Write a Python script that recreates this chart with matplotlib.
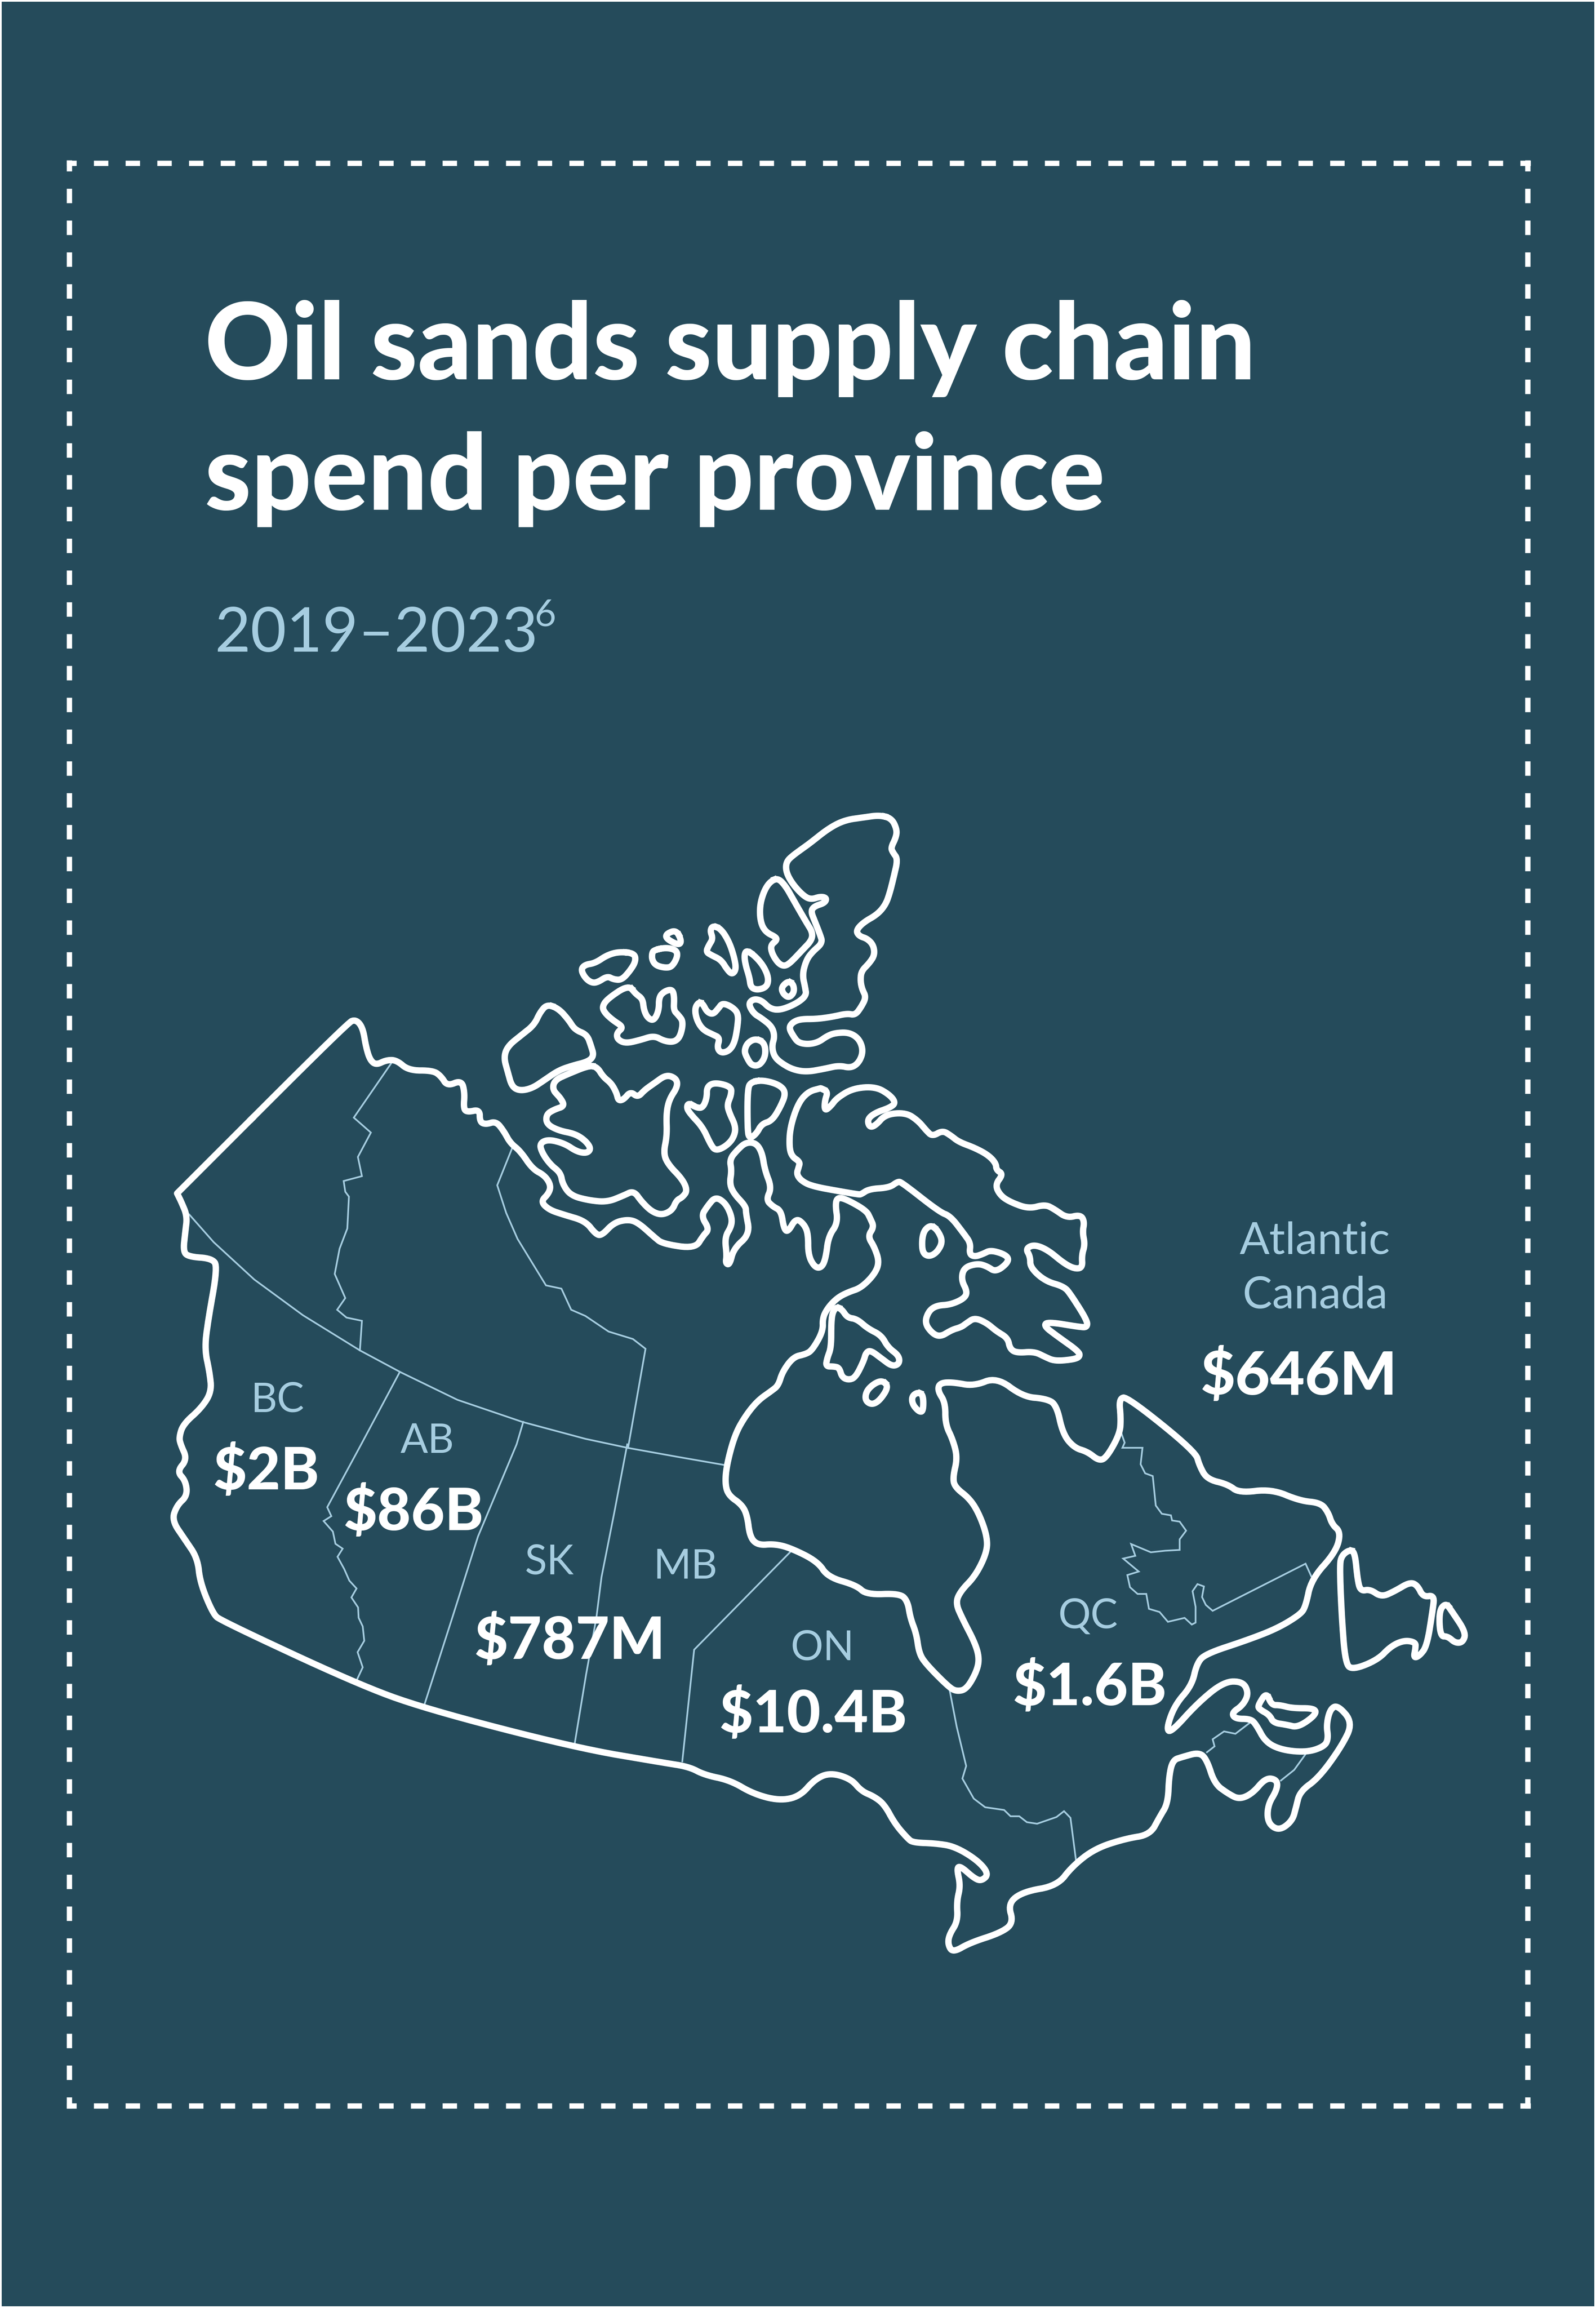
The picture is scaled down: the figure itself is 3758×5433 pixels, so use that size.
import matplotlib
matplotlib.use("Agg")
import matplotlib.pyplot as plt
import numpy as np

# colours
BG = "#254b5b"
LIGHT = "#a6cde0"
WHITE = "#ffffff"

# text and values
title_lines = ["Oil sands supply chain", "spend per province"]
subtitle = "2019–2023"
footnote = "6"
regions = ["BC", "AB", "SK", "MB", "ON", "QC"]
region_spend = ["$2B", "$86B", "$787M", "$10.4B", "$1.6B"]

# the outlines were traced on zoomed crops: (left, top, width, height) of the crop,
# each crop being shown 1568 px square
CROPS = {
    "z1": (1100, 1850, 1500, 1200),
    "z2": (350, 2350, 1500, 1200),
    "z3": (1600, 2700, 1000, 1000),
    "z4": (2150, 3200, 1400, 1450),
    "z5": (350, 3400, 1900, 1000),
}


def to_px(crop, pts):
    left, top, w, h = CROPS[crop]
    pts = np.array(pts, dtype=float)
    return np.column_stack([left + pts[:, 0] * w / 1568, top + pts[:, 1] * h / 1568])


# mainland, clockwise from the Yukon / Alaska corner
main_a = [(70, 600), (490, 75), (510, 65), (527, 90), (535, 150), (545, 190), (560, 205), (585, 190), (610, 190),
          (640, 222), (700, 222), (720, 240), (735, 270), (770, 252), (778, 290), (775, 340), (785, 350), (815, 342),
          (815, 380), (830, 388), (855, 378), (875, 410), (890, 445), (915, 470), (945, 525), (975, 545), (990, 575),
          (985, 600), (965, 625), (985, 650), (1020, 665), (1075, 685), (1100, 725), (1115, 730), (1145, 690),
          (1180, 680), (1205, 690), (1245, 735), (1265, 755), (1345, 770), (1365, 730), (1380, 710), (1360, 670),
          (1375, 640), (1395, 610), (1420, 630), (1435, 670), (1435, 700), (1418, 735), (1423, 790), (1420, 815),
          (1430, 820), (1440, 770), (1480, 725), (1470, 660), (1470, 640), (1440, 600), (1430, 570), (1435, 530),
          (1430, 495), (1450, 465), (1470, 443), (1495, 445), (1510, 475)]
main_b = [(315, 85), (340, 150), (320, 195), (345, 220), (375, 235), (385, 300), (400, 315), (430, 262), (460, 285),
          (475, 320), (475, 400), (500, 445), (525, 445), (540, 410), (550, 330), (585, 280), (575, 210), (585, 185),
          (620, 195), (690, 235), (705, 265), (718, 295), (695, 330), (720, 370), (738, 425), (720, 470), (670, 520),
          (625, 535), (585, 555), (550, 590), (528, 630), (530, 680), (490, 750), (465, 765), (420, 775), (380, 830),
          (365, 880), (340, 900), (290, 935), (245, 990), (205, 1060), (175, 1170), (168, 1240), (180, 1285),
          (230, 1320), (250, 1360), (260, 1440), (290, 1470), (350, 1465), (410, 1480), (510, 1530)]
main_c = [(1320, 490), (1375, 520), (1395, 555), (1460, 550), (1475, 580), (1480, 640), (1492, 700), (1497, 770),
          (1510, 810)]
main_d = [(95, 835), (115, 845), (140, 840), (165, 800), (175, 765), (165, 725), (130, 660), (112, 620), (125, 590),
          (165, 550), (195, 490), (195, 450), (175, 395), (150, 355), (110, 325), (105, 300), (117, 250), (105, 205),
          (85, 165), (85, 110), (65, 80), (70, 60), (105, 58), (160, 68), (220, 45), (290, 95), (350, 100), (378, 115),
          (395, 190), (425, 225), (460, 235), (490, 258), (510, 250), (545, 190), (548, 150), (543, 100), (565, 95),
          (745, 235), (755, 270), (775, 305), (830, 318), (860, 340), (945, 330), (1020, 360), (1075, 365), (1095, 390),
          (1105, 420), (1128, 440), (1115, 490), (1050, 560), (1035, 630), (1020, 650), (960, 685), (880, 715),
          (770, 750), (748, 775), (735, 830), (690, 880), (668, 940), (680, 950), (750, 875), (820, 820), (870, 820),
          (885, 850), (870, 880), (840, 900), (850, 915), (890, 915), (905, 930), (930, 975), (975, 995), (1040, 1000),
          (1085, 985), (1095, 965), (1090, 930), (1100, 890), (1120, 880), (1160, 925), (1130, 985), (1070, 1065),
          (1020, 1100), (1010, 1140), (1000, 1175), (965, 1200), (935, 1180), (935, 1135), (960, 1095), (960, 1070),
          (930, 1065), (895, 1105), (860, 1120), (830, 1105), (795, 1080), (775, 1020), (755, 1000), (710, 1012),
          (685, 1020), (675, 1060), (672, 1130), (650, 1165), (625, 1210), (560, 1220), (480, 1245), (420, 1290),
          (380, 1340), (290, 1355), (250, 1385), (265, 1435), (230, 1460), (150, 1485), (105, 1510), (92, 1490),
          (95, 1465), (118, 1430), (115, 1380), (125, 1340), (115, 1295), (125, 1290), (160, 1320), (180, 1328),
          (200, 1310), (170, 1275), (110, 1240), (60, 1232), (0, 1230)]
main_e = [(1475, 1455), (1450, 1400), (1430, 1330), (1410, 1300), (1385, 1280), (1365, 1235), (1325, 1212), (1295, 1235),
          (1265, 1300), (1225, 1315), (1175, 1290), (1130, 1240), (1080, 1220), (1050, 1190), (1000, 1175), (830, 1120),
          (535, 975), (400, 880), (140, 650), (125, 625), (100, 510), (95, 420), (70, 350), (45, 280), (55, 225),
          (75, 190), (72, 135), (55, 100), (75, 55), (62, 0)]
main_f = [(75, 1350), (85, 1310), (130, 1260), (155, 1210), (150, 1150), (138, 1080), (145, 1000), (170, 825), (155, 800),
          (100, 795), (85, 780), (90, 720), (95, 670), (80, 625), (70, 600)]

# Baffin, north shore on the first crop, the rest on the second
baffin_a = [(870, 930), (888, 940), (880, 970), (880, 1000), (895, 985), (910, 960), (950, 930), (1005, 925), (1040, 950),
            (1055, 975), (1040, 990), (1005, 1005), (985, 1025), (990, 1050), (1005, 1045), (1030, 1010), (1080, 1005),
            (1110, 1030), (1130, 1060), (1145, 1078), (1170, 1060), (1190, 1075), (1210, 1095)]
baffin_b = [(1090, 3), (1140, 30), (1168, 60), (1170, 85), (1195, 100), (1165, 140), (1185, 180), (1225, 205), (1290, 228),
            (1350, 212), (1385, 230), (1430, 262), (1480, 250), (1495, 275), (1488, 315), (1497, 360), (1485, 400),
            (1488, 445), (1460, 450), (1420, 430), (1360, 380), (1310, 360), (1278, 375), (1295, 405), (1295, 445),
            (1350, 495), (1420, 515), (1445, 545), (1505, 640), (1505, 665), (1480, 665), (1360, 645), (1345, 660),
            (1390, 695), (1475, 755), (1478, 775), (1450, 785), (1385, 790), (1350, 775), (1310, 755), (1245, 760),
            (1220, 745), (1212, 705), (1170, 680), (1135, 650), (1090, 630), (1060, 650), (1040, 665), (1005, 675),
            (965, 700), (935, 690), (905, 650), (920, 605), (950, 585), (1000, 582), (1050, 560), (1063, 535),
            (1040, 490), (1050, 445), (1100, 430), (1135, 440), (1168, 462), (1215, 425), (1210, 400), (1150, 380),
            (1120, 395), (1090, 405), (1070, 395), (1075, 355), (1050, 320), (1000, 255), (960, 240), (820, 130),
            (805, 128), (775, 150), (700, 155), (670, 175), (660, 175), (600, 165), (490, 145), (450, 125), (432, 100),
            (440, 75), (445, 55), (415, 35), (405, 0)]
baffin_c = [(795, 1050), (815, 975), (840, 940), (870, 930)]

# islands traced on the first crop
arctic_islands = [
    [(1015, 90), (1045, 100), (1058, 135), (1055, 160), (1043, 190), (1048, 205), (1060, 225), (1050, 280), (1040, 330),
     (1030, 365), (1010, 395), (975, 420), (957, 445), (965, 462), (985, 470), (1000, 490), (1003, 520), (990, 545),
     (970, 570), (968, 600), (972, 625), (982, 650), (970, 680), (955, 705), (935, 700), (900, 710), (860, 717),
     (820, 717), (800, 728), (792, 745), (803, 770), (815, 790), (840, 795), (865, 788), (885, 770), (905, 760),
     (940, 758), (965, 778), (975, 815), (965, 850), (945, 868), (915, 860), (880, 870), (835, 880), (800, 872),
     (770, 850), (755, 830), (750, 800), (757, 770), (750, 740), (725, 715), (705, 700), (692, 670), (705, 655),
     (725, 660), (745, 685), (770, 690), (810, 670), (835, 645), (832, 620), (825, 580), (835, 535), (850, 510),
     (875, 483), (868, 455), (855, 415), (846, 385), (855, 370), (880, 360), (885, 345), (870, 340), (845, 350),
     (825, 335), (800, 300), (785, 265), (785, 235), (800, 215), (840, 180), (890, 130), (930, 105), (975, 97)],
    [(765, 283), (745, 295), (730, 325), (720, 370), (722, 420), (735, 450), (760, 465), (762, 475), (747, 490),
     (750, 515), (765, 545), (780, 555), (795, 545), (825, 505), (848, 475), (850, 450), (835, 420), (805, 355), (785, 310)],
    [(790, 600), (803, 610), (805, 635), (792, 652), (778, 640), (773, 620)],
    [(605, 430), (625, 440), (645, 480), (658, 530), (662, 565), (652, 580), (640, 565), (625, 535), (600, 520), (588, 510),
     (595, 490), (605, 470), (598, 445)],
    [(688, 505), (710, 525), (730, 555), (742, 590), (738, 618), (715, 628), (698, 620), (695, 590), (685, 550), (682, 520)],
    [(515, 443), (528, 478), (520, 490), (490, 470), (490, 455)],
    [(460, 505), (490, 497), (515, 505), (518, 525), (505, 555), (490, 560), (465, 553), (455, 535), (455, 515)],
    [(375, 510), (412, 515), (415, 540), (400, 570), (380, 597), (360, 595), (345, 585), (320, 605), (305, 605), (290, 590),
     (280, 565), (290, 550), (315, 545), (345, 520)],
    [(397, 612), (415, 640), (432, 655), (435, 690), (445, 715), (460, 722), (472, 690), (472, 650), (485, 632), (505, 625),
     (510, 650), (508, 690), (520, 705), (532, 725), (525, 770), (510, 788), (485, 785), (460, 768), (425, 782), (390, 792),
     (370, 780), (368, 760), (385, 742), (360, 722), (340, 700), (332, 680), (345, 655)],
    [(570, 665), (580, 670), (590, 695), (605, 703), (618, 685), (628, 668), (650, 678), (668, 700), (665, 745), (658, 790),
     (645, 815), (625, 822), (615, 805), (622, 775), (605, 765), (580, 750), (565, 720), (560, 685)],
    [(710, 777), (732, 790), (735, 830), (720, 860), (700, 860), (688, 835), (682, 815), (690, 790)],
    [(197, 672), (225, 685), (250, 720), (265, 750), (295, 765), (305, 800), (312, 830), (298, 848), (260, 860), (225, 875),
     (190, 905), (160, 930), (130, 938), (110, 925), (100, 880), (90, 835), (100, 800), (135, 765), (165, 735), (180, 695)],
    [(300, 860), (320, 865), (335, 895), (355, 915), (368, 945), (372, 968), (385, 965), (402, 940), (420, 958), (437, 935),
     (460, 915), (490, 888), (515, 900), (518, 925), (497, 965), (490, 1010), (492, 1075), (483, 1130), (495, 1165),
     (530, 1210), (542, 1245), (530, 1265), (515, 1275), (505, 1305), (480, 1320), (455, 1310), (430, 1280), (410, 1245),
     (385, 1260), (345, 1280), (300, 1275), (255, 1260), (235, 1225), (230, 1190), (205, 1165), (185, 1130), (178, 1100),
     (200, 1087), (240, 1100), (270, 1125), (295, 1130), (305, 1115), (290, 1090), (265, 1070), (225, 1060), (195, 1040),
     (195, 1010), (215, 995), (240, 985), (230, 960), (210, 935), (215, 905), (250, 885)],
    [(545, 975), (565, 990), (580, 990), (590, 960), (590, 925), (610, 912), (650, 925), (650, 950), (640, 980), (645, 1005),
     (662, 1050), (655, 1085), (635, 1110), (612, 1122), (600, 1105), (580, 1050), (550, 1010), (540, 990)],
    [(700, 910), (730, 905), (770, 920), (785, 945), (770, 990), (750, 1030), (725, 1040), (712, 1070), (695, 1085),
     (690, 1060), (690, 930)],
]
# hudson bay islands
bay_islands = [
    [(580, 590), (600, 600), (620, 630), (655, 635), (695, 670), (745, 695), (770, 740), (810, 770), (812, 800), (785, 810),
     (745, 780), (705, 750), (688, 760), (680, 790), (650, 850), (625, 860), (600, 850), (590, 815), (570, 810), (540, 810),
     (545, 780), (560, 740), (560, 650), (565, 610)],
    [(750, 862), (772, 885), (740, 935), (710, 952), (685, 935), (690, 900), (720, 872)],
    [(880, 905), (900, 915), (900, 975), (885, 978), (860, 950), (858, 920)],
    [(930, 288), (955, 310), (972, 350), (950, 390), (920, 405), (897, 390), (895, 340), (905, 305)],
]
atlantic_islands = [
    [(1150, 485), (1165, 490), (1172, 560), (1180, 590), (1205, 585), (1235, 605), (1270, 590), (1310, 567), (1330, 575),
     (1345, 605), (1375, 600), (1370, 640), (1355, 730), (1335, 755), (1320, 760), (1325, 735), (1325, 720), (1295, 715),
     (1260, 730), (1225, 765), (1160, 790), (1140, 775), (1130, 650), (1125, 525), (1130, 500)],
    [(1405, 620), (1420, 640), (1458, 695), (1450, 720), (1430, 722), (1410, 705), (1390, 705), (1387, 640)],
    [(932, 847), (945, 880), (968, 880), (1000, 888), (1060, 888), (1062, 905), (1015, 937), (985, 930), (950, 925),
     (940, 905), (912, 890), (910, 880)],
]

# thin borders between provinces
borders = [
    ("z2", [(597, 200), (505, 367), (547, 413), (515, 488), (525, 547), (480, 562), (484, 595), (493, 610), (489, 708),
            (470, 770), (458, 848), (484, 922), (464, 958), (487, 982), (525, 992), (520, 1083)]),
    ("z2", [(895, 460), (858, 575), (880, 660), (908, 740), (978, 883), (1016, 893), (1040, 958), (1075, 977), (1132, 1025),
            (1192, 1048), (1223, 1078), (1180, 1383)]),
    ("z2", [(100, 665), (160, 750), (260, 865), (380, 975), (520, 1083), (620, 1150), (760, 1235), (920, 1303), (1075, 1355),
            (1180, 1383), (1300, 1410), (1415, 1435)]),
    ("z5", [(488, -267), (413, 0), (347, 232), (355, 265), (340, 283), (358, 322), (363, 367), (377, 385), (367, 415),
            (380, 460), (390, 503), (404, 532), (394, 565), (407, 602), (408, 640), (416, 672), (419, 725), (406, 767),
            (416, 823), (402, 880)]),
    ("z5", [(728, -83), (715, 0), (640, 340), (590, 640), (534, 972)]),
    ("z5", [(930, 0), (905, 250), (880, 490), (870, 640), (850, 850), (827, 1115)]),
    ("z5", [(1248, 395), (1060, 758), (1037, 1170)]),
    ("z4", [(95, 835), (115, 935), (140, 1035), (130, 1067), (160, 1118), (190, 1140), (240, 1147), (257, 1163), (280, 1163),
            (300, 1178), (327, 1182), (378, 1165), (398, 1150), (415, 1167), (430, 1278)]),
    ("z4", [(550, 190), (558, 212), (552, 225), (605, 225), (600, 267), (612, 290), (632, 297), (640, 372), (656, 393),
            (680, 397), (683, 410), (703, 413), (720, 436), (703, 458), (703, 485), (665, 487), (627, 491), (575, 470),
            (586, 500), (554, 507), (595, 540), (565, 549), (572, 580), (592, 597), (615, 597), (622, 635), (650, 643),
            (672, 668), (716, 658), (735, 675), (745, 670), (745, 630), (737, 590), (750, 572), (767, 578), (762, 605),
            (772, 625), (790, 640), (1035, 520), (1050, 552)]),
    ("z4", [(775, 1000), (795, 985), (790, 967), (820, 947), (850, 953), (888, 925)]),
    ("z4", [(1035, 1005), (1005, 1045), (970, 1072)]),
]


# Chaikin corner cutting, keeps straight borders straight and rounds the coast
def rounded(pts, n=3):
    p = np.asarray(pts, dtype=float)
    for _ in range(n):
        q = np.roll(p, -1, axis=0)
        a = 0.75 * p + 0.25 * q
        b = 0.25 * p + 0.75 * q
        p = np.empty((len(a) * 2, 2))
        p[0::2] = a
        p[1::2] = b
    return np.vstack([p, p[:1]])


plt.rcParams["font.family"] = ["Lato", "DejaVu Sans"]
plt.rcParams["lines.scale_dashes"] = False

W, H = 3758, 5433
fig = plt.figure(figsize=(W / 300, H / 300), dpi=300, facecolor=WHITE)
ax = fig.add_axes([0, 0, 1, 1])
ax.set_xlim(0, W)
ax.set_ylim(H, 0)
ax.axis("off")

px = 72 / 300  # one image pixel in points

# the poster stops 4 px short of the image edge
ax.fill_between([4, W - 4], 4, H - 4, color=BG, lw=0)

# dashed frame, each side starts at a corner
FRAME_L, FRAME_T, FRAME_R, FRAME_B = 163, 383.5, 3597.5, 4957
LW_FRAME = 12.5
frame_style = dict(color=WHITE, lw=LW_FRAME * px, dash_capstyle="butt")
h_dash = (11 * px, (34 * px, 40.64 * px))
v_dash = (8 * px, (34 * px, 40.88 * px))
for y in (FRAME_T, FRAME_B):
    ax.plot([FRAME_L - LW_FRAME / 2, FRAME_R + LW_FRAME / 2], [y, y], linestyle=h_dash, **frame_style)
for x in (FRAME_L, FRAME_R):
    ax.plot([x, x], [FRAME_T - LW_FRAME / 2, FRAME_B + LW_FRAME / 2], linestyle=v_dash, **frame_style)

# provinces
for crop, pts in borders:
    xy = to_px(crop, pts)
    ax.plot(xy[:, 0], xy[:, 1], color=LIGHT, lw=4 * px, solid_joinstyle="miter")

mainland = np.vstack([to_px("z2", main_a), to_px("z3", main_b), to_px("z5", main_c), to_px("z4", main_d),
                      to_px("z5", main_e), to_px("z2", main_f)])
baffin = np.vstack([to_px("z1", baffin_a), to_px("z3", baffin_b), to_px("z1", baffin_c)])
shapes = [mainland, baffin]
shapes += [to_px("z1", s) for s in arctic_islands]
shapes += [to_px("z3", s) for s in bay_islands]
shapes += [to_px("z4", s) for s in atlantic_islands]
for s in shapes:
    xy = rounded(s)
    ax.plot(xy[:, 0], xy[:, 1], color=WHITE, lw=15 * px, solid_joinstyle="round")

# heading
ax.text(482, 893, title_lines[0], color=WHITE, fontsize=60, fontweight="black", va="baseline")
ax.text(482, 1200, title_lines[1], color=WHITE, fontsize=59.5, fontweight="black", va="baseline")
ax.text(505, 1534, subtitle, color=LIGHT, fontsize=35, fontweight="normal", va="baseline")
ax.text(1258, 1473, footnote, color=LIGHT, fontsize=21, fontweight="normal", va="baseline")

# region labels
label_size = 23
spend_size = 33
region_pos = [(653, 3323), (1006, 3420), (1294, 3706), (1614, 3716), (1936, 3908), (2562, 3833)]
for name, (x, y) in zip(regions, region_pos):
    ax.text(x, y, name, color=LIGHT, fontsize=label_size, fontweight="normal", ha="center", va="baseline")
spend_pos = [(627, 3506), (974, 3602), (1341, 3905), (1915, 4078), (2566, 4014)]
for val, (x, y) in zip(region_spend, spend_pos):
    ax.text(x, y, val, color=WHITE, fontsize=spend_size, fontweight="black", ha="center", va="baseline")

ax.text(3096, 2951, "Atlantic", color=LIGHT, fontsize=25, fontweight="normal", ha="center", va="baseline")
ax.text(3097, 3079, "Canada", color=LIGHT, fontsize=25, fontweight="normal", ha="center", va="baseline")
ax.text(3058, 3283, "$646M", color=WHITE, fontsize=34, fontweight="black", ha="center", va="baseline")

fig.savefig("out.png", dpi=300, facecolor=WHITE)
